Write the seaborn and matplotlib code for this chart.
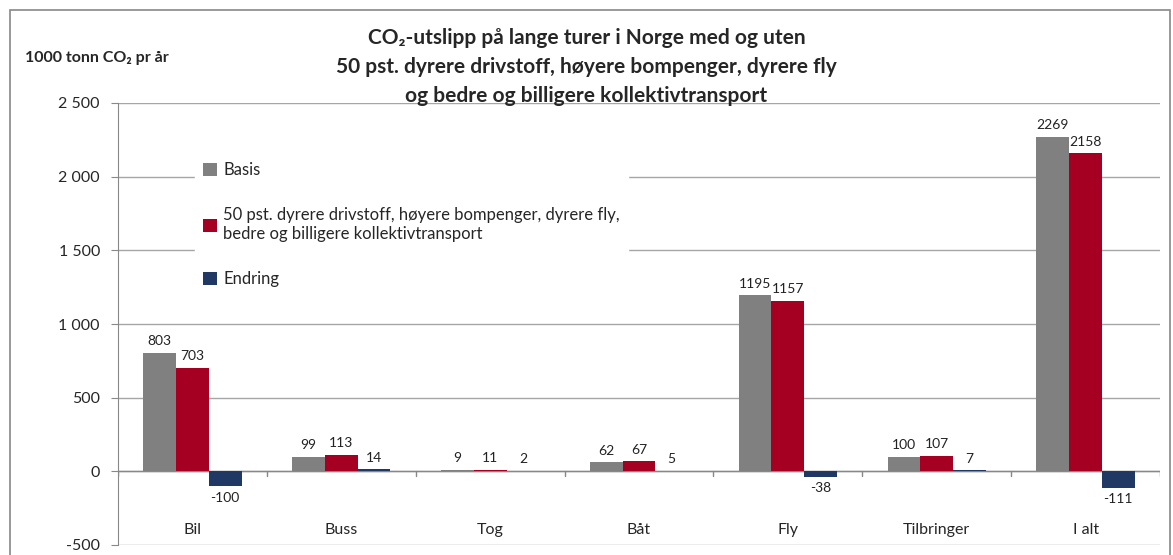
import seaborn as sns
import matplotlib.pyplot as plt
import pandas as pd
import numpy as np
from matplotlib.patches import Rectangle

categories = ["Bil", "Buss", "Tog", "Båt", "Fly", "Tilbringer", "I alt"]
basis = [803, 99, 9, 62, 1195, 100, 2269]
tiltak = [703, 113, 11, 67, 1157, 107, 2158]
endring = [-100, 14, 2, 5, -38, 7, -111]

series_names = [
    "Basis",
    "50 pst. dyrere drivstoff, høyere bompenger, dyrere fly,\nbedre og billigere kollektivtransport",
    "Endring",
]
colors = ["#808080", "#A50021", "#1F3864"]
y_ticks = [-500, 0, 500, 1000, 1500, 2000, 2500]

df = pd.DataFrame({
    "kategori": categories * 3,
    "serie": [series_names[0]] * 7 + [series_names[1]] * 7 + [series_names[2]] * 7,
    "verdi": basis + tiltak + endring,
})

sns.set_style("white")
plt.rcParams["font.family"] = ["Lato", "DejaVu Sans"]

fig = plt.figure(figsize=(11.73, 5.55), dpi=100)
ax = fig.add_axes([118 / 1173, 1 - 545 / 555, (1160 - 118) / 1173, (545 - 103) / 555])

sns.barplot(data=df, x="kategori", y="verdi", hue="serie", order=categories,
            hue_order=series_names, palette=colors, width=0.66, errorbar=None,
            saturation=1, linewidth=0, ax=ax, zorder=3)

for cont in ax.containers:
    ax.bar_label(cont, fmt="%d", padding=4, fontsize=10, color="#222222")

ax.set_ylim(-500, 2500)
ax.set_xlim(-0.5, len(categories) - 0.5)
ax.set_yticks(y_ticks)
ax.set_yticklabels([f"{v:,}".replace(",", " ") for v in y_ticks], fontsize=11.5)
ax.yaxis.grid(True, color="#A6A6A6", linewidth=1)
ax.set_axisbelow(True)
ax.tick_params(axis="y", which="both", left=True, length=5, color="#888888", pad=8)
ax.set_xticks([])
ax.set_xlabel("")
ax.set_ylabel("")
for s in ["top", "right", "bottom"]:
    ax.spines[s].set_visible(False)
ax.spines["left"].set_color("#888888")

# zero line with category separators
ax.axhline(0, color="#888888", linewidth=1, zorder=2)
for i in range(len(categories) + 1):
    ax.plot([i - 0.5, i - 0.5], [0, -35], color="#888888", linewidth=1, zorder=2)
for i, c in enumerate(categories):
    ax.text(i, -400, c, ha="center", va="center", fontsize=11.5)

leg = ax.legend(loc="upper left", bbox_to_anchor=(0.074, 0.885), borderaxespad=0,
                frameon=True, fontsize=12, labelspacing=1.75, handlelength=0.8,
                handleheight=0.8, handletextpad=0.4, borderpad=0.5)
leg.get_frame().set_facecolor("white")
leg.get_frame().set_edgecolor("white")
leg.get_frame().set_alpha(1)
leg.set_zorder(5)

fig.text(0.5, 1 - 28 / 555, "CO₂-utslipp på lange turer i Norge med og uten\n"
         "50 pst. dyrere drivstoff, høyere bompenger, dyrere fly\n"
         "og bedre og billigere kollektivtransport",
         ha="center", va="top", fontsize=15, fontweight="bold", linespacing=1.55)
fig.text(25 / 1173, 1 - 58 / 555, "1000 tonn CO₂ pr år", ha="left", va="center",
         fontsize=11.5, fontweight="bold")

fig.patches.append(Rectangle((10 / 1173, -0.05), (1170 - 10) / 1173, 1.05 - 10 / 555,
                             transform=fig.transFigure, fill=False,
                             edgecolor="#888888", linewidth=1.2))

fig.savefig("out.png", dpi=100)
